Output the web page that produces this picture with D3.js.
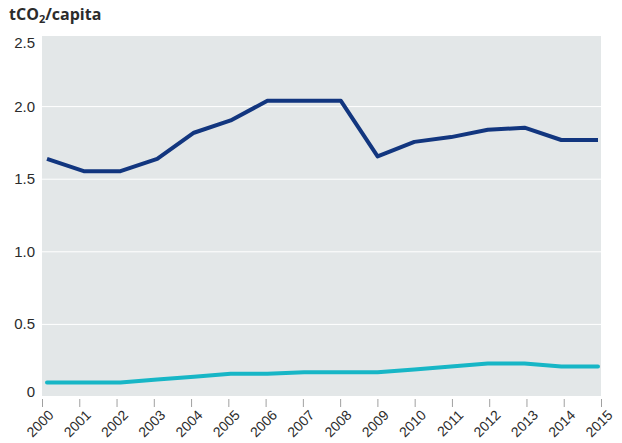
<!DOCTYPE html>
<html lang="en">
<head>
    <meta charset="UTF-8">
    <title>tCO2 per capita</title>
    <script src="https://d3js.org/d3.v7.min.js"></script>
    <style>
        body {
            margin: 0;
            background-color: #ffffff;
            font-family: "Open Sans", "Noto Sans", sans-serif;
        }
        .axis text {
            font-size: 15px;
            fill: #2b2b2b;
        }
        .x.axis text {
            font-size: 14px;
        }
    </style>
</head>
<body>
    <svg width="622" height="443"></svg>

<script>
    // data
    let years = d3.range(2000, 2016);
    let darkSeries = [1.64, 1.555, 1.555, 1.64, 1.82, 1.905, 2.04, 2.04, 2.04, 1.657, 1.757, 1.79, 1.84, 1.855, 1.77, 1.77];
    let tealSeries = [0.10, 0.10, 0.10, 0.12, 0.14, 0.16, 0.16, 0.17, 0.17, 0.17, 0.19, 0.21, 0.23, 0.23, 0.21, 0.21];
    let yTicks = [0, 0.5, 1.0, 1.5, 2.0, 2.5];

    let margin = { top: 36, right: 21, bottom: 47, left: 42 };
    let width = 622 - margin.left - margin.right;
    let height = 443 - margin.top - margin.bottom;

    let svg = d3.select("svg")
        .append("g")
        .attr("transform", `translate(${margin.left},${margin.top})`);

    // tick positions span the full plot, the line points sit slightly inside
    let xScale = d3.scaleLinear().domain([2000, 2015]).range([0, width]);
    let xLine = d3.scaleLinear().domain([2000, 2015]).range([5, width - 3]);
    let yScale = d3.scaleLinear().domain([0, 2.5]).range([height + 1, -2]);

    svg.append("rect")
        .attr("width", width)
        .attr("height", height)
        .attr("fill", "#e3e7e8");

    // gridlines
    svg.selectAll("line.grid")
        .data(yTicks.filter(d => d > 0 && d < 2.5))
        .enter().append("line")
        .attr("class", "grid")
        .attr("x1", 0)
        .attr("x2", width)
        .attr("y1", d => yScale(d))
        .attr("y2", d => yScale(d))
        .attr("stroke", "#ffffff")
        .attr("stroke-width", 1);

    // y axis labels (top and bottom ones nudged inside, as in the original)
    let yAxis = svg.append("g")
        .attr("class", "axis y")
        .call(d3.axisLeft(yScale)
            .tickValues(yTicks)
            .tickSize(0)
            .tickPadding(7)
            .tickFormat(d => d === 0 ? "0" : d3.format(".1f")(d)));
    yAxis.select(".domain").remove();
    yAxis.selectAll("text")
        .attr("dy", d => d === 0 ? "-0.05em" : d === 2.5 ? "0.9em" : "0.3em");

    // x axis
    let xAxis = svg.append("g")
        .attr("class", "x axis")
        .attr("transform", `translate(0,${height})`)
        .call(d3.axisBottom(xScale)
            .tickValues(years)
            .tickSize(0)
            .tickFormat(d3.format("d")));
    xAxis.select(".domain").remove();
    xAxis.selectAll(".tick line")
        .attr("y1", 3)
        .attr("y2", 11)
        .attr("stroke", "#a0a0a0");
    xAxis.selectAll("text")
        .attr("transform", "translate(5,13) rotate(-45)")
        .attr("dy", "0.7em")
        .attr("y", 0)
        .style("text-anchor", "end");

    let line = d3.line()
        .x((d, i) => xLine(years[i]))
        .y(d => yScale(d));

    svg.append("path")
        .datum(darkSeries)
        .attr("fill", "none")
        .attr("stroke", "#12367f")
        .attr("stroke-width", 4)
        .attr("stroke-linejoin", "round")
        .attr("d", line);

    svg.append("path")
        .datum(tealSeries)
        .attr("fill", "none")
        .attr("stroke", "#17b6c6")
        .attr("stroke-width", 4)
        .attr("stroke-linecap", "round")
        .attr("stroke-linejoin", "round")
        .attr("d", line);

    // unit label
    let title = d3.select("svg").append("text")
        .attr("x", 9)
        .attr("y", 20)
        .attr("fill", "#2b2b2b")
        .attr("font-size", "16px")
        .attr("font-weight", "bold");
    title.append("tspan").text("tCO");
    title.append("tspan").attr("font-size", "11px").attr("dy", 3).text("2");
    title.append("tspan").attr("dy", -3).text("/capita");
</script>

</body>
</html>
